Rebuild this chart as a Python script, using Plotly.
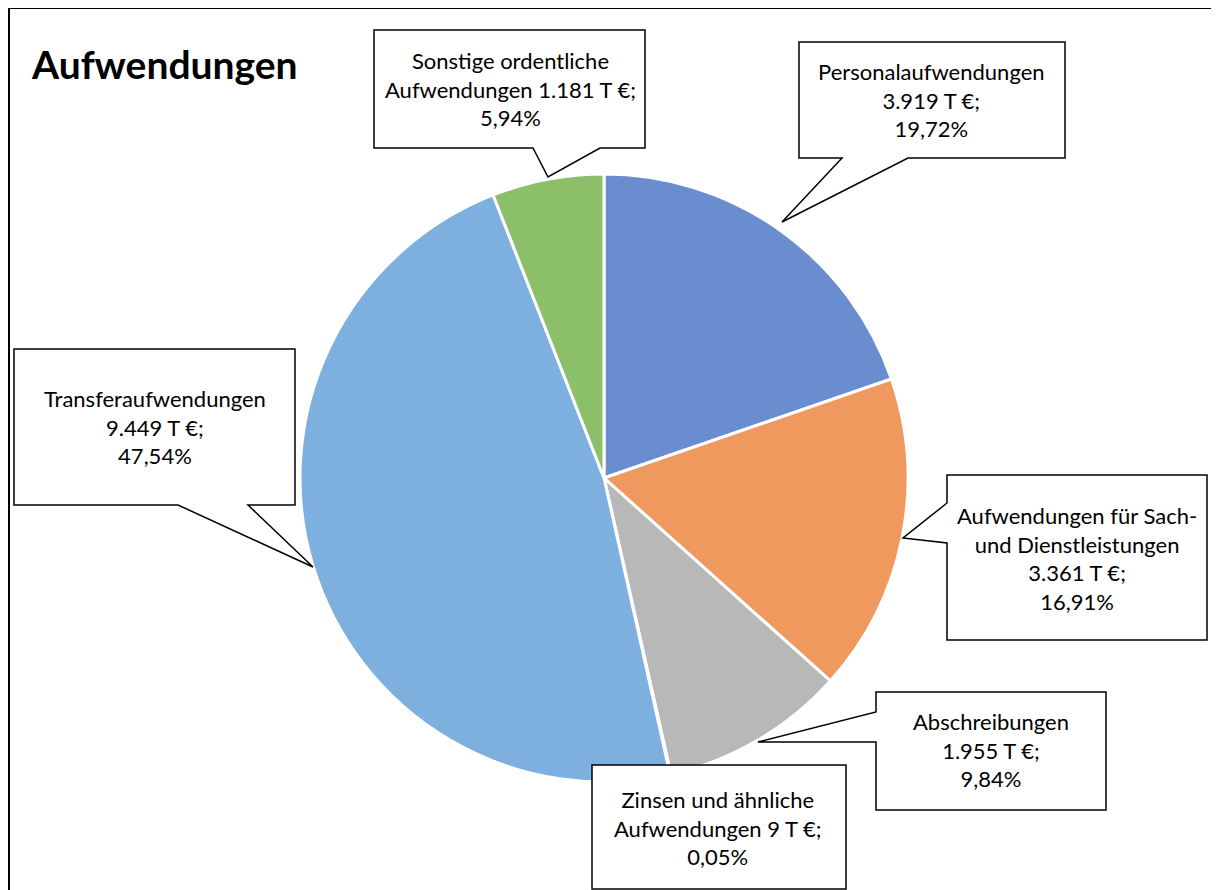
import plotly.graph_objects as go

# ---- data ----
categories = [
    "Personalaufwendungen",
    "Aufwendungen für Sach- und Dienstleistungen",
    "Abschreibungen",
    "Zinsen und ähnliche Aufwendungen",
    "Transferaufwendungen",
    "Sonstige ordentliche Aufwendungen",
]
values_teur = [3919, 3361, 1955, 9, 9449, 1181]
# label text as laid out in the callouts ({v} value, {p} percent)
label_templates = [
    "Personalaufwendungen<br>{v} T €;<br>{p}%",
    "Aufwendungen für Sach-<br>und Dienstleistungen<br>{v} T €;<br>{p}%",
    "Abschreibungen<br>{v} T €;<br>{p}%",
    "Zinsen und ähnliche<br>Aufwendungen {v} T €;<br>{p}%",
    "Transferaufwendungen<br>{v} T €;<br>{p}%",
    "Sonstige ordentliche<br>Aufwendungen {v} T €;<br>{p}%",
]
slice_colors = ["#6A8DD0", "#F0995E", "#B8B8B8", "#FFC000", "#7DB0DE", "#8CBF69"]
title_text = "Aufwendungen"

# page offset (body margin) and figure size
OFF = 8
W, H = 1211, 882


def px(x):
    return (x - OFF) / W


def py(y):
    return 1 - (y - OFF) / H


def de_num(v):
    return f"{v:,}".replace(",", ".")


total = sum(values_teur)
label_texts = [
    t.format(v=de_num(v), p=f"{100 * v / total:.2f}".replace(".", ","))
    for t, v in zip(label_templates, values_teur)
]

fig = go.Figure()

# pie: center (604, 478), radius 304 px (page coordinates)
cx, cy, r = 604, 478, 304
fig.add_trace(go.Pie(
    labels=categories,
    values=values_teur,
    sort=False,
    direction="clockwise",
    rotation=0,
    textinfo="none",
    hoverinfo="label+value+percent",
    marker=dict(colors=slice_colors, line=dict(color="white", width=3)),
    domain=dict(x=[px(cx - r), px(cx + r)], y=[py(cy + r), py(cy - r)]),
    showlegend=False,
))

shapes = []
# outer chart border
shapes.append(dict(type="rect", xref="paper", yref="paper",
                   x0=px(9), x1=px(1240), y0=py(910), y1=py(8),
                   line=dict(color="black", width=2), fillcolor="rgba(0,0,0,0)", layer="below"))


def callout(points):
    d = "M " + " L ".join(f"{px(x)},{py(y)}" for x, y in points) + " Z"
    return dict(type="path", xref="paper", yref="paper", path=d,
                line=dict(color="black", width=1.5), fillcolor="white", layer="above")


# callout geometry (page pixels): box corners with pointer wedge
callouts = [
    # Personal
    [(799, 42), (1065, 42), (1065, 158), (908, 158), (782, 222), (842, 158), (799, 158)],
    # Sach
    [(947, 475), (1207, 475), (1207, 640), (947, 640), (947, 543), (903, 538), (947, 503)],
    # Abschreibungen
    [(876, 692), (1106, 692), (1106, 810), (876, 810), (876, 742), (758, 742), (876, 712)],
    # Zinsen
    [(592, 765), (846, 765), (846, 889), (592, 889)],
    # Transfer
    [(14, 349), (295, 349), (295, 505), (248, 505), (313, 567), (178, 505), (14, 505)],
    # Sonstige
    [(374, 30), (645, 30), (645, 148), (600, 148), (548, 177), (533, 148), (374, 148)],
]
for c in callouts:
    shapes.append(callout(c))

# text centres (page pixels)
text_centers = [(932, 100), (1077, 558), (991, 750), (718, 828), (155, 427), (510, 89)]

annotations = []
for (tx, ty), txt in zip(text_centers, label_texts):
    annotations.append(dict(
        x=px(tx), y=py(ty), xref="paper", yref="paper",
        text=txt, showarrow=False, align="center",
        xanchor="center", yanchor="middle",
        font=dict(family="Lato", size=22, color="black"),
    ))

annotations.append(dict(
    x=px(29), y=py(64), xref="paper", yref="paper",
    text=f"<b>{title_text}</b>", showarrow=False,
    xanchor="left", yanchor="middle",
    font=dict(family="Lato", size=39, color="black"),
))

fig.update_layout(
    width=W, height=H,
    margin=dict(l=0, r=0, t=0, b=0),
    paper_bgcolor="white",
    plot_bgcolor="white",
    shapes=shapes,
    annotations=annotations,
)

fig.write_html("out.html")
